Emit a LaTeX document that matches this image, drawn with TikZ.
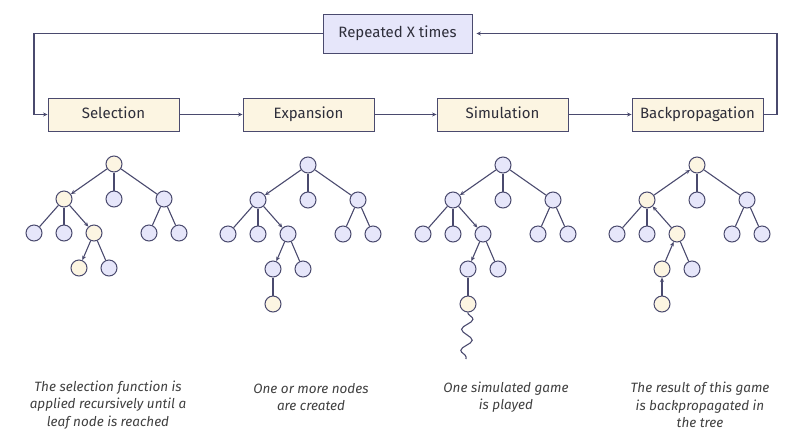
\documentclass[tikz,border=0pt]{standalone}
\usepackage{fontspec}
\setmainfont{Fira Sans}
\usepackage{tikz}
\usetikzlibrary{arrows.meta, positioning, decorations.pathmorphing}
\definecolor{edgeline}{HTML}{4A4A6E}
\definecolor{lavender}{HTML}{E6E6FA}
\definecolor{cream}{HTML}{FCF5E2}
\definecolor{labeltext}{HTML}{2E2E3A}
\definecolor{captext}{HTML}{404040}

\begin{document}
\begin{tikzpicture}[x=1pt, y=-1pt, >={Stealth[length=4.5pt, width=4pt]},
    stagebox/.style={draw=edgeline, fill=cream, line width=0.9pt, minimum width=131pt,
        minimum height=33pt, inner sep=0pt, text height=11pt, text depth=3.5pt,
        font=\fontsize{15}{18}\selectfont, text=labeltext},
    loopbox/.style={stagebox, fill=lavender, minimum width=149pt, minimum height=39pt},
    tnode/.style={circle, draw=edgeline, fill=lavender, line width=1pt, minimum size=16pt, inner sep=0pt},
    hot/.style={tnode, fill=cream},
    edge/.style={draw=edgeline, line width=1.1pt},
    caption/.style={font=\fontsize{13.5}{17.5}\selectfont\itshape, text=captext, align=center}]

\useasboundingbox (0,0) rectangle (800,437);

% ── Stage boxes and the outer loop ───────────────────────────────
\node[loopbox] (loop) at (397.5,33.5) {Repeated X times};
\node[stagebox] (sel) at (113.5,114.5) {Selection};
\node[stagebox] (exp) at (308.5,114.5) {Expansion};
\node[stagebox] (sim) at (502.5,114.5) {Simulation};
\node[stagebox] (back) at (697.5,114.5) {Backpropagation};

\draw[edge, ->] (sel) -- (exp);
\draw[edge, ->] (exp) -- (sim);
\draw[edge, ->] (sim) -- (back);

\coordinate (lcorner) at (34,33.5);
\coordinate (rcorner) at (777,114.5);
\draw[edge, ->] (loop.west) -- (lcorner) |- (sel.west);
\draw[edge, ->, shorten >=4pt] (back.east) -- (rcorner) |- (loop.east);

% ── Selection tree ───────────────────────────────────────────────
\begin{scope}[shift={(114,164)}]
    \node[hot] (s-r) at (0,0) {};
    \node[hot] (s-a) at (-50,35) {};
    \node[tnode] (s-b) at (0,35) {};
    \node[tnode] (s-c) at (50,35) {};
    \node[tnode] (s-aa) at (-80,69) {};
    \node[tnode] (s-ab) at (-50,69) {};
    \node[hot] (s-ac) at (-20,69) {};
    \node[tnode] (s-ca) at (35,69) {};
    \node[tnode] (s-cb) at (65,69) {};
    \node[hot] (s-aca) at (-35,104) {};
    \node[tnode] (s-acb) at (-5,104) {};

    \draw[edge, ->] (s-r) -- (s-a);
    \draw[edge] (s-r) -- (s-b);
    \draw[edge] (s-r) -- (s-c);
    \draw[edge] (s-a) -- (s-aa);
    \draw[edge] (s-a) -- (s-ab);
    \draw[edge, ->] (s-a) -- (s-ac);
    \draw[edge] (s-c) -- (s-ca);
    \draw[edge] (s-c) -- (s-cb);
    \draw[edge, ->] (s-ac) -- (s-aca);
    \draw[edge] (s-ac) -- (s-acb);
\end{scope}

% ── Expansion tree ───────────────────────────────────────────────
\begin{scope}[shift={(308,165)}]
    \node[tnode] (e-r) at (0,0) {};
    \node[tnode] (e-a) at (-50,35) {};
    \node[tnode] (e-b) at (0,35) {};
    \node[tnode] (e-c) at (50,35) {};
    \node[tnode] (e-aa) at (-80,69) {};
    \node[tnode] (e-ab) at (-50,69) {};
    \node[tnode] (e-ac) at (-20,69) {};
    \node[tnode] (e-ca) at (35,69) {};
    \node[tnode] (e-cb) at (65,69) {};
    \node[tnode] (e-aca) at (-35,104) {};
    \node[tnode] (e-acb) at (-5,104) {};
    \node[hot] (e-new) at (-35,139) {};

    \draw[edge, ->] (e-r) -- (e-a);
    \draw[edge] (e-r) -- (e-b);
    \draw[edge] (e-r) -- (e-c);
    \draw[edge] (e-a) -- (e-aa);
    \draw[edge] (e-a) -- (e-ab);
    \draw[edge, ->] (e-a) -- (e-ac);
    \draw[edge] (e-c) -- (e-ca);
    \draw[edge] (e-c) -- (e-cb);
    \draw[edge, ->] (e-ac) -- (e-aca);
    \draw[edge] (e-ac) -- (e-acb);
    \draw[edge] (e-aca) -- (e-new);
\end{scope}

% ── Simulation tree ──────────────────────────────────────────────
\begin{scope}[shift={(503,165)}]
    \node[tnode] (m-r) at (0,0) {};
    \node[tnode] (m-a) at (-50,35) {};
    \node[tnode] (m-b) at (0,35) {};
    \node[tnode] (m-c) at (50,35) {};
    \node[tnode] (m-aa) at (-80,69) {};
    \node[tnode] (m-ab) at (-50,69) {};
    \node[tnode] (m-ac) at (-20,69) {};
    \node[tnode] (m-ca) at (35,69) {};
    \node[tnode] (m-cb) at (65,69) {};
    \node[tnode] (m-aca) at (-35,104) {};
    \node[tnode] (m-acb) at (-5,104) {};
    \node[hot] (m-new) at (-35,139) {};
    \coordinate (m-end) at (-37,194);

    \draw[edge, ->] (m-r) -- (m-a);
    \draw[edge] (m-r) -- (m-b);
    \draw[edge] (m-r) -- (m-c);
    \draw[edge] (m-a) -- (m-aa);
    \draw[edge] (m-a) -- (m-ab);
    \draw[edge, ->] (m-a) -- (m-ac);
    \draw[edge] (m-c) -- (m-ca);
    \draw[edge] (m-c) -- (m-cb);
    \draw[edge, ->] (m-ac) -- (m-aca);
    \draw[edge] (m-ac) -- (m-acb);
    \draw[edge] (m-aca) -- (m-new);
    % random playout
    \draw[edge, decorate, decoration={snake, amplitude=5.5pt, segment length=21pt}]
        (m-new) -- (m-end);
\end{scope}

% ── Backpropagation tree ─────────────────────────────────────────
\begin{scope}[shift={(697,165)}]
    \node[hot] (b-r) at (0,0) {};
    \node[hot] (b-a) at (-50,35) {};
    \node[tnode] (b-b) at (0,35) {};
    \node[tnode] (b-c) at (50,35) {};
    \node[tnode] (b-aa) at (-80,69) {};
    \node[tnode] (b-ab) at (-50,69) {};
    \node[hot] (b-ac) at (-20,69) {};
    \node[tnode] (b-ca) at (35,69) {};
    \node[tnode] (b-cb) at (65,69) {};
    \node[hot] (b-aca) at (-35,104) {};
    \node[tnode] (b-acb) at (-5,104) {};
    \node[hot] (b-new) at (-35,139) {};

    \draw[edge, ->] (b-a) -- (b-r);
    \draw[edge] (b-r) -- (b-b);
    \draw[edge] (b-r) -- (b-c);
    \draw[edge] (b-a) -- (b-aa);
    \draw[edge] (b-a) -- (b-ab);
    \draw[edge, ->] (b-ac) -- (b-a);
    \draw[edge] (b-c) -- (b-ca);
    \draw[edge] (b-c) -- (b-cb);
    \draw[edge, ->] (b-aca) -- (b-ac);
    \draw[edge] (b-ac) -- (b-acb);
    \draw[edge, ->] (b-new) -- (b-aca);
\end{scope}

% ── Captions ─────────────────────────────────────────────────────
\node[caption] (cap-s) at (108,405) {The selection function is\\applied recursively until a\\leaf node is reached};
\node[caption] (cap-e) at (311,397) {One or more nodes\\are created};
\node[caption] (cap-m) at (506,397) {One simulated game\\is played};
\node[caption] (cap-b) at (700,405) {The result of this game\\is backpropagated in\\the tree};

\end{tikzpicture}
\end{document}
